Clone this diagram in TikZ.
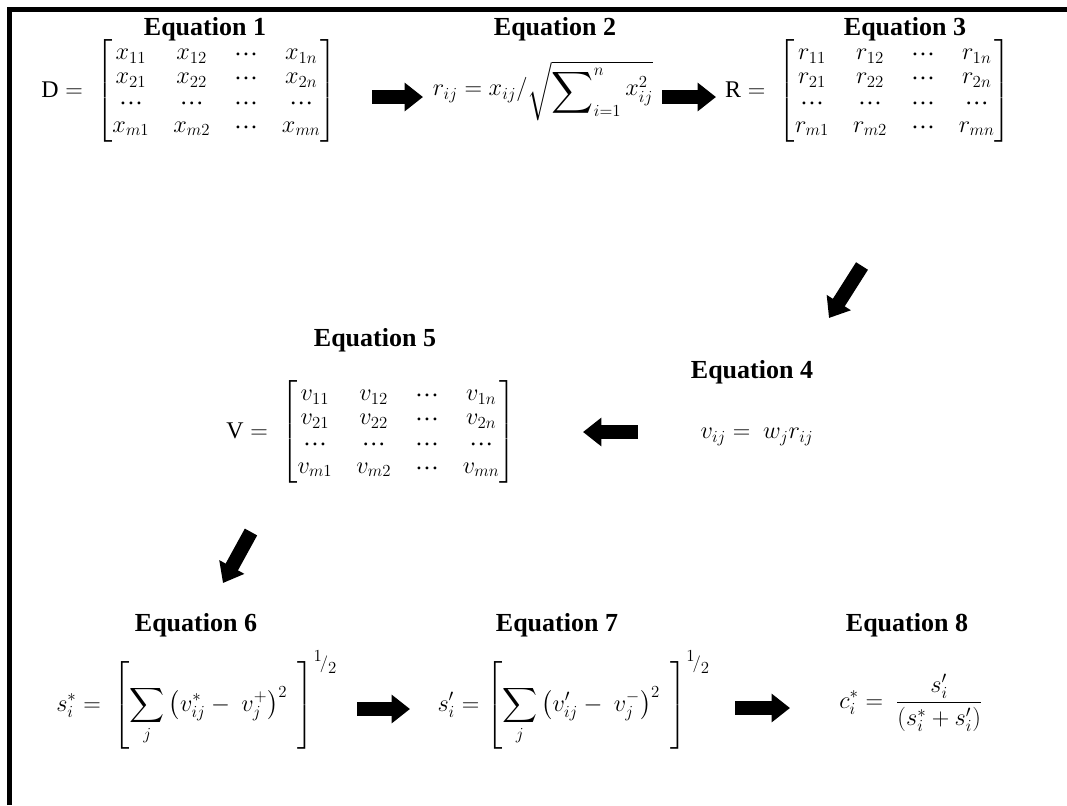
\documentclass[tikz,border=0pt]{standalone}
\usepackage{fontspec}
\usepackage{amsmath}
\usepackage{graphicx}
\setmainfont{Liberation Serif}
\usetikzlibrary{arrows.meta}

% dots and matrix of one step: letter on the left, entry letter inside
\newcommand{\mdots}{\text{\raisebox{0.35ex}{…}}}
\newcommand{\eqmatrix}[2]{\mathrm{#1} =\; \begin{bmatrix}
  #2_{11} & #2_{12} & \mdots & #2_{1n}\\
  #2_{21} & #2_{22} & \mdots & #2_{2n}\\
  \mdots & \mdots & \mdots & \mdots\\
  #2_{m1} & #2_{m2} & \mdots & #2_{mn}
\end{bmatrix}}
\newcommand{\halfpow}{{}^{\scriptstyle 1}\!/{}_{\scriptstyle 2}}
\newcommand{\bigsum}{\mathop{\raisebox{-0.35ex}{\scalebox{1.2}{$\displaystyle\sum$}}}}

\begin{document}
\begin{tikzpicture}[x=0.025cm, y=-0.025cm,
    eqtitle/.style={font=\fontsize{18.5}{22}\selectfont\bfseries, inner sep=0pt},
    eqbody/.style={font=\fontsize{17}{20}\selectfont, inner sep=0pt},
    bigarrow/.style={line width=10pt, -{Triangle[length=13pt, width=19.5pt]}}]
  \useasboundingbox (0,0) rectangle (1067,805);
  \draw[line width=3.6pt] (9.5,805) -- (9.5,9.5) -- (1067,9.5);

  % titles
  \foreach \n/\x/\y in {1/205/29, 2/555/29, 3/905/29, 4/752/372,
                        5/375/340, 6/196/625, 7/557/625, 8/907/625}{
    \node[eqtitle] (t\n) at (\x,\y) {Equation \n};
  }

  % equations
  \renewcommand{\arraystretch}{0.86}
  \setlength{\arraycolsep}{8.5pt}
  \node[eqbody] (eq1) at (189,91) {$\eqmatrix{D}{x}$};
  \node[eqbody] (eq2) at (543,91)
    {$r_{ij} = x_{ij}/\sqrt{\bigsum\nolimits_{i=1}^{n} x_{ij}^{2}}$};
  \node[eqbody] (eq3) at (868,91) {$\eqmatrix{R}{r}$};
  \node[eqbody] (eq4) at (757,437) {$v_{ij} =\ w_{j}r_{ij}$};
  \node[eqbody] (eq5) at (371,432) {$\eqmatrix{V}{v}$};
  \node[eqbody] (eq6) at (197,700)
    {$\displaystyle s_i^{*} =\ \left[\sum_{j}\left(v_{ij}^{*} -\ v_{j}^{+}\right)^{2}\ \,\right]^{\halfpow}$};
  \node[eqbody] (eq7) at (574,700)
    {$\displaystyle s_i^{\prime} = \left[\sum_{j}\left(v_{ij}^{\prime} -\ v_{j}^{-}\right)^{2}\ \,\right]^{\halfpow}$};
  \node[eqbody] (eq8) at (911,703)
    {$\displaystyle c_i^{*} =\ \frac{s_i^{\prime}}{\left(s_i^{*} + s_i^{\prime}\right)}$};

  % block arrows between the steps
  \coordinate (s1) at (372,97);  \coordinate (e1) at (423,97);
  \coordinate (s2) at (662,97);  \coordinate (e2) at (716,97);
  \coordinate (s3) at (862,266); \coordinate (e3) at (829,318);
  \coordinate (s4) at (638,432); \coordinate (e4) at (583,432);
  \coordinate (s5) at (251,532); \coordinate (e5) at (223,583);
  \coordinate (s6) at (357,709); \coordinate (e6) at (410,709);
  \coordinate (s7) at (735,708); \coordinate (e7) at (790,708);
  \foreach \i in {1,...,7}
    \draw[bigarrow] (s\i) -- (e\i);
\end{tikzpicture}
\end{document}
